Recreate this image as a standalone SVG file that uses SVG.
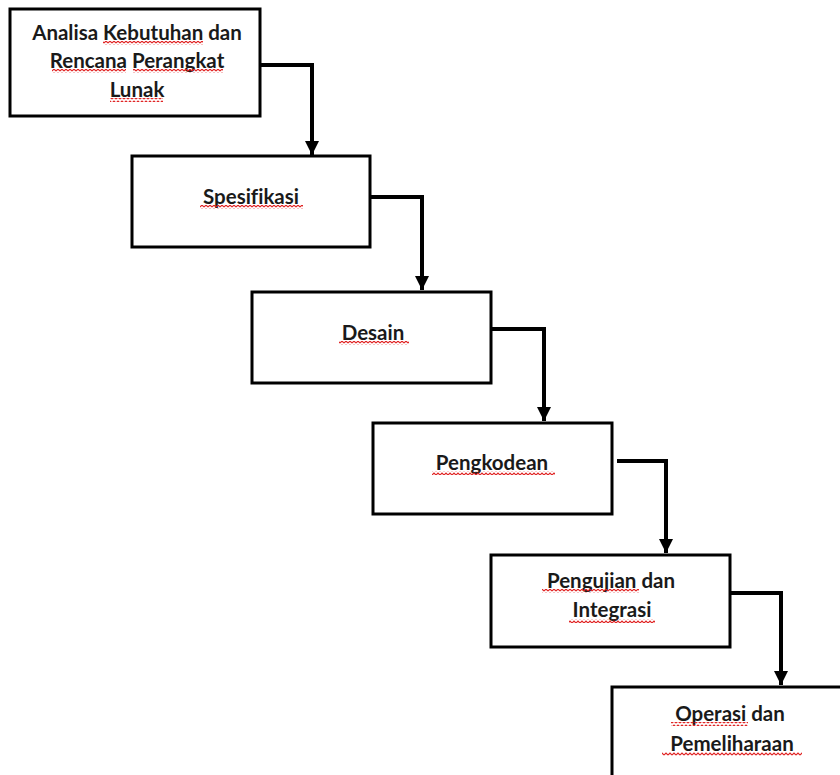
<svg xmlns="http://www.w3.org/2000/svg" width="840" height="775" viewBox="0 0 840 775">
<style>
.box{fill:#fff;stroke:#000;stroke-width:3}
.lbl{font-family:Lato,"Open Sans","Liberation Sans",sans-serif;font-weight:bold;font-size:20.5px;fill:#1a1a1a;text-anchor:middle;font-variant-ligatures:none}
.conn{fill:none;stroke:#000;stroke-width:4}
.sq{fill:url(#wave)}
</style>
<defs>
<pattern id="wave" patternUnits="userSpaceOnUse" width="4" height="4">
<path d="M0,3 L2,1 L4,3" fill="none" stroke="#e02020" stroke-width="1.1"/>
</pattern>
<marker id="arr" markerUnits="userSpaceOnUse" markerWidth="16" markerHeight="14" refX="14" refY="7" orient="auto">
<path d="M0,0 L14,7 L0,14 Z" fill="#000"/>
</marker>
</defs>
<rect width="840" height="775" fill="#fff"/>
<g id="connectors">
<path class="conn" d="M260,65 H312 V155" marker-end="url(#arr)"/>
<path class="conn" d="M370,197 H422 V290" marker-end="url(#arr)"/>
<path class="conn" d="M491,329 H544 V421" marker-end="url(#arr)"/>
<path class="conn" d="M617,461 H666 V553" marker-end="url(#arr)"/>
<path class="conn" d="M730,593 H781 V685" marker-end="url(#arr)"/>
</g>
<g id="n1">
<rect class="box" x="10" y="9" width="250" height="107"/>
<text class="lbl" x="137" y="40">Analisa Kebutuhan dan</text>
<text class="lbl" x="137" y="68">Rencana Perangkat</text>
<text class="lbl" x="137" y="97">Lunak</text>
<rect class="sq" x="103" y="41" width="100" height="4"/>
<rect class="sq" x="52" y="69" width="74" height="4"/>
<rect class="sq" x="133" y="69" width="90" height="4"/>
<rect class="sq" x="110" y="98" width="53" height="4"/>
</g>
<g id="n2">
<rect class="box" x="132" y="156" width="238" height="91"/>
<text class="lbl" x="251" y="204">Spesifikasi</text>
<rect class="sq" x="200" y="205" width="103" height="4"/>
</g>
<g id="n3">
<rect class="box" x="252" y="292" width="239" height="91"/>
<text class="lbl" x="373" y="340">Desain</text>
<rect class="sq" x="339" y="341" width="70" height="4"/>
</g>
<g id="n4">
<rect class="box" x="373" y="423" width="239" height="91"/>
<text class="lbl" x="492" y="470">Pengkodean</text>
<rect class="sq" x="432" y="471" width="123" height="4"/>
</g>
<g id="n5">
<rect class="box" x="491" y="555" width="239" height="92"/>
<text class="lbl" x="611" y="588">Pengujian dan</text>
<text class="lbl" x="612" y="617">Integrasi</text>
<rect class="sq" x="542" y="589" width="97" height="4"/>
<rect class="sq" x="569" y="619" width="86" height="4"/>
</g>
<g id="n6">
<rect class="box" x="612" y="687" width="240" height="100"/>
<text class="lbl" x="730" y="721">Operasi dan</text>
<text class="lbl" x="732" y="751">Pemeliharaan</text>
<rect class="sq" x="671" y="722" width="77" height="4"/>
<rect class="sq" x="662" y="752" width="140" height="4"/>
</g>
</svg>
